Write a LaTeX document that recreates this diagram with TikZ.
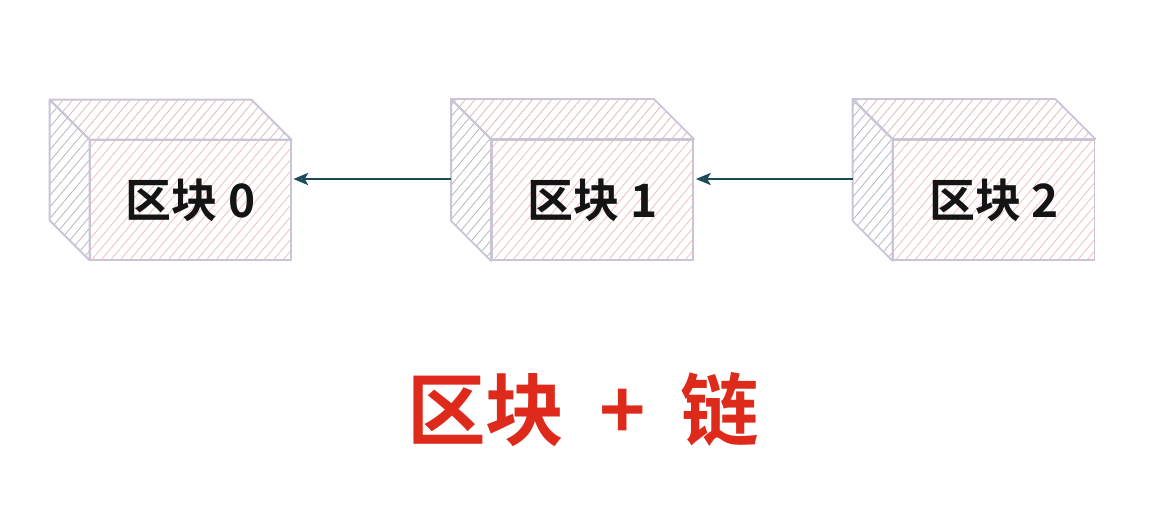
\documentclass[tikz,border=0pt]{standalone}
\usepackage{fontspec}
\newfontfamily\cjk{Noto Sans CJK SC}[BoldFont={Noto Sans CJK SC Bold}]
\usetikzlibrary{patterns.meta,arrows.meta,calc}
\definecolor{edgec}{HTML}{C9C5D6}
\definecolor{hatchpink}{HTML}{EFC0B8}
\definecolor{hatchgray}{HTML}{B8B6BE}
\definecolor{arrowc}{HTML}{1C4A56}
\definecolor{redc}{HTML}{DD2A1B}
\tikzset{
  front/.style={draw=edgec, line width=1.4pt, minimum width=150.75pt, minimum height=90pt,
    inner sep=0pt, pattern={Lines[angle=50,distance=5.5pt,line width=0.6pt]}, pattern color=hatchpink,
    font=\cjk\bfseries\fontsize{34.5}{38}\selectfont, text=black!92},
  topface/.style={draw=edgec, line width=1.4pt, line join=round,
    pattern={Lines[angle=50,distance=5.5pt,line width=0.6pt]}, pattern color=hatchpink!65!hatchgray},
  sideface/.style={draw=edgec, line width=1.4pt, line join=round,
    pattern={Lines[angle=50,distance=5.5pt,line width=0.6pt]}, pattern color=hatchgray},
  link/.style={draw=arrowc, line width=2pt, -{Stealth[open,length=11pt,width=9pt,inset=2.5pt]}},
  title/.style={font=\cjk\bfseries\fontsize{59}{62}\selectfont, text=redc}
}
\begin{document}
\begin{tikzpicture}[x=0.75pt,y=-0.75pt]
\useasboundingbox (0,0) rectangle (1164,506);
\foreach \n/\cx/\lab in {b0/190.5/区块 0, b1/592.5/区块 1, b2/994/区块 2}{
  \node[front] (\n) at (\cx,200) {\lab};
  \draw[topface] (\n.north west) -- ++(-40,-40) -- ($(\n.north east)+(-40,-40)$) -- (\n.north east) -- cycle;
  \draw[sideface] (\n.north west) -- ++(-40,-40) -- ($(\n.south west)+(-40,-40)$) -- (\n.south west) -- cycle;
}
\coordinate (s1) at ($(b1.west)+(-40,-21)$);
\coordinate (e0) at ($(b0.east)+(2,-21)$);
\coordinate (s2) at ($(b2.west)+(-40,-21)$);
\coordinate (e1) at ($(b1.east)+(2,-21)$);
\draw[link] (s1) -- (e0);
\draw[link] (s2) -- (e1);
\node[title] (t) at (583,410) {区块\hspace{26pt}+\hspace{26pt}链};
\end{tikzpicture}
\end{document}
